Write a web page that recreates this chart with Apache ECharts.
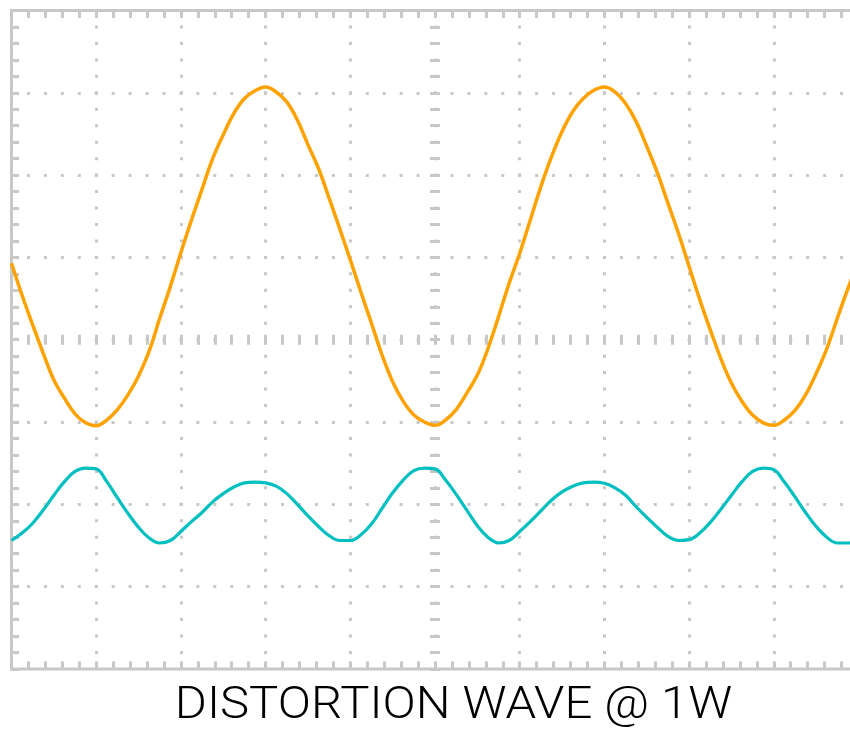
<!DOCTYPE html>
<html>
<head>
<meta charset="utf-8">
<script src="https://cdn.jsdelivr.net/npm/echarts@6/dist/echarts.min.js"></script>
<style>
  html, body { margin: 0; padding: 0; background: #ffffff; }
  #chart { width: 850px; height: 729px; }
</style>
</head>
<body>
<div id="chart"></div>
<script>
// Time position in horizontal divisions (screen is 10 divisions wide)
const timeDiv = [
  0, 0.125, 0.25, 0.375, 0.5, 0.625, 0.75, 0.875,
  1, 1.125, 1.25, 1.375, 1.5, 1.625, 1.75, 1.875,
  2, 2.125, 2.25, 2.375, 2.5, 2.625, 2.75, 2.875,
  3, 3.125, 3.25, 3.375, 3.5, 3.625, 3.75, 3.875,
  4, 4.125, 4.25, 4.375, 4.5, 4.625, 4.75, 4.875,
  5, 5.125, 5.25, 5.375, 5.5, 5.625, 5.75, 5.875,
  6, 6.125, 6.25, 6.375, 6.5, 6.625, 6.75, 6.875,
  7, 7.125, 7.25, 7.375, 7.5, 7.625, 7.75, 7.875,
  8, 8.125, 8.25, 8.375, 8.5, 8.625, 8.75, 8.875,
  9, 9.125, 9.25, 9.375, 9.5, 9.625, 9.75, 9.875, 10];
// Orange trace (vertical divisions, 0 = screen centre)
const fundamentalWave = [
  0.93, 0.54, 0.18, -0.165, -0.49, -0.71, -0.90, -1.01,
  -1.045, -0.976, -0.85, -0.67, -0.44, -0.14, 0.26, 0.645,
  1.06, 1.455, 1.83, 2.20, 2.49, 2.75, 2.93, 3.025,
  3.07, 3.01, 2.89, 2.67, 2.37, 2.08, 1.72, 1.35,
  0.97, 0.58, 0.20, -0.186, -0.51, -0.75, -0.915, -1.0,
  -1.04, -0.976, -0.85, -0.65, -0.43, -0.11, 0.28, 0.685,
  1.05, 1.455, 1.86, 2.22, 2.53, 2.77, 2.93, 3.03,
  3.07, 3.01, 2.87, 2.65, 2.35, 2.03, 1.66, 1.29,
  0.89, 0.49, 0.12, -0.23, -0.53, -0.75, -0.915, -1.01,
  -1.04, -0.976, -0.86, -0.67, -0.41, -0.11, 0.26, 0.62, 0.95];
// Cyan trace: distortion residue
const distortionWave = [
  -2.44, -2.35, -2.23, -2.07, -1.89, -1.725, -1.60, -1.56,
  -1.57, -1.725, -1.92, -2.11, -2.28, -2.41, -2.47, -2.44,
  -2.33, -2.21, -2.10, -1.97, -1.87, -1.79, -1.74, -1.73,
  -1.74, -1.78, -1.87, -2.00, -2.14, -2.27, -2.38, -2.44,
  -2.44, -2.37, -2.24, -2.05, -1.86, -1.705, -1.59, -1.56,
  -1.57, -1.705, -1.88, -2.07, -2.26, -2.40, -2.47, -2.44,
  -2.33, -2.21, -2.08, -1.95, -1.85, -1.78, -1.74, -1.73,
  -1.745, -1.80, -1.89, -2.03, -2.16, -2.28, -2.39, -2.44,
  -2.43, -2.35, -2.22, -2.06, -1.89, -1.725, -1.60, -1.56,
  -1.58, -1.73, -1.91, -2.10, -2.27, -2.40, -2.47, -2.47, -2.42];
const titleText = 'DISTORTION WAVE @ 1W';

const GRID_COLOR = '#c8c8c8';
const gridRect = { left: 11.5, top: 10.5, width: 847, height: 658.4, outerBoundsMode: 'none', containLabel: false };

const pairs = (ys) => timeDiv.map((x, i) => [x, ys[i]]);

const hidden = { show: false };
function borderAxis(extra) {
  return Object.assign({
    type: 'value',
    axisLine: { show: false, onZero: false },
    axisLabel: hidden,
    axisTick: { show: true, inside: true, length: 7.5, lineStyle: { color: GRID_COLOR, width: 3 } },
    minorTick: { show: true, splitNumber: 5, length: 7.5, lineStyle: { color: GRID_COLOR, width: 3 } },
    splitLine: hidden,
    minorSplitLine: hidden
  }, extra);
}
function centreAxis(extra, inside) {
  return Object.assign({
    type: 'value',
    axisLine: { show: false, onZero: true },
    axisLabel: hidden,
    axisTick: { show: true, inside: inside, length: 5, lineStyle: { color: GRID_COLOR, width: 3 } },
    minorTick: { show: true, splitNumber: 5, length: 5, lineStyle: { color: GRID_COLOR, width: 3 } },
    splitLine: hidden,
    minorSplitLine: hidden
  }, extra);
}

const chart = echarts.init(document.getElementById('chart'), null, { renderer: 'canvas' });
chart.setOption({
  animation: false,
  backgroundColor: '#ffffff',
  grid: [
    Object.assign({ show: true, borderWidth: 3, borderColor: GRID_COLOR, backgroundColor: 'transparent' }, gridRect),
    Object.assign({ show: false }, gridRect),
    Object.assign({ show: false }, gridRect)
  ],
  xAxis: [
    borderAxis({ gridIndex: 0, min: 0, max: 10, interval: 1, position: 'bottom',
      splitLine: { show: true, showMinLine: false, showMaxLine: false,
        lineStyle: { color: GRID_COLOR, width: 3, type: [3, 13.46], dashOffset: 1.5 } } }),
    borderAxis({ gridIndex: 0, min: 0, max: 10, interval: 1, position: 'top' }),
    centreAxis({ gridIndex: 1, min: -5, max: 5, interval: 1, position: 'bottom' }, true),
    centreAxis({ gridIndex: 2, min: -5, max: 5, interval: 1, position: 'bottom' }, false)
  ],
  yAxis: [
    borderAxis({ gridIndex: 0, min: -4, max: 4, interval: 1, position: 'left',
      splitLine: { show: true, showMinLine: false, showMaxLine: false,
        lineStyle: { color: GRID_COLOR, width: 3, type: [3, 13.94], dashOffset: 1.5 } } }),
    centreAxis({ gridIndex: 1, min: -4, max: 4, interval: 1, position: 'left' }, true),
    centreAxis({ gridIndex: 2, min: -4, max: 4, interval: 1, position: 'left' }, false)
  ],
  series: [
    {
      name: 'Fundamental', type: 'line', xAxisIndex: 0, yAxisIndex: 0,
      data: pairs(fundamentalWave), smooth: 0.4, showSymbol: false, z: 5,
      lineStyle: { color: '#ffa200', width: 3.5 }
    },
    {
      name: 'Distortion', type: 'line', xAxisIndex: 0, yAxisIndex: 0,
      data: pairs(distortionWave), smooth: 0.4, showSymbol: false, z: 5,
      lineStyle: { color: '#00bfc0', width: 3.2 }
    }
  ],
  graphic: [
    {
      type: 'text', x: 453.5, y: 707, scaleX: 1.115,
      style: {
        text: titleText, fill: '#000000',
        font: '300 44px Roboto, "Liberation Sans", sans-serif',
        textAlign: 'center', textVerticalAlign: 'middle'
      }
    }
  ]
});
</script>
</body>
</html>
